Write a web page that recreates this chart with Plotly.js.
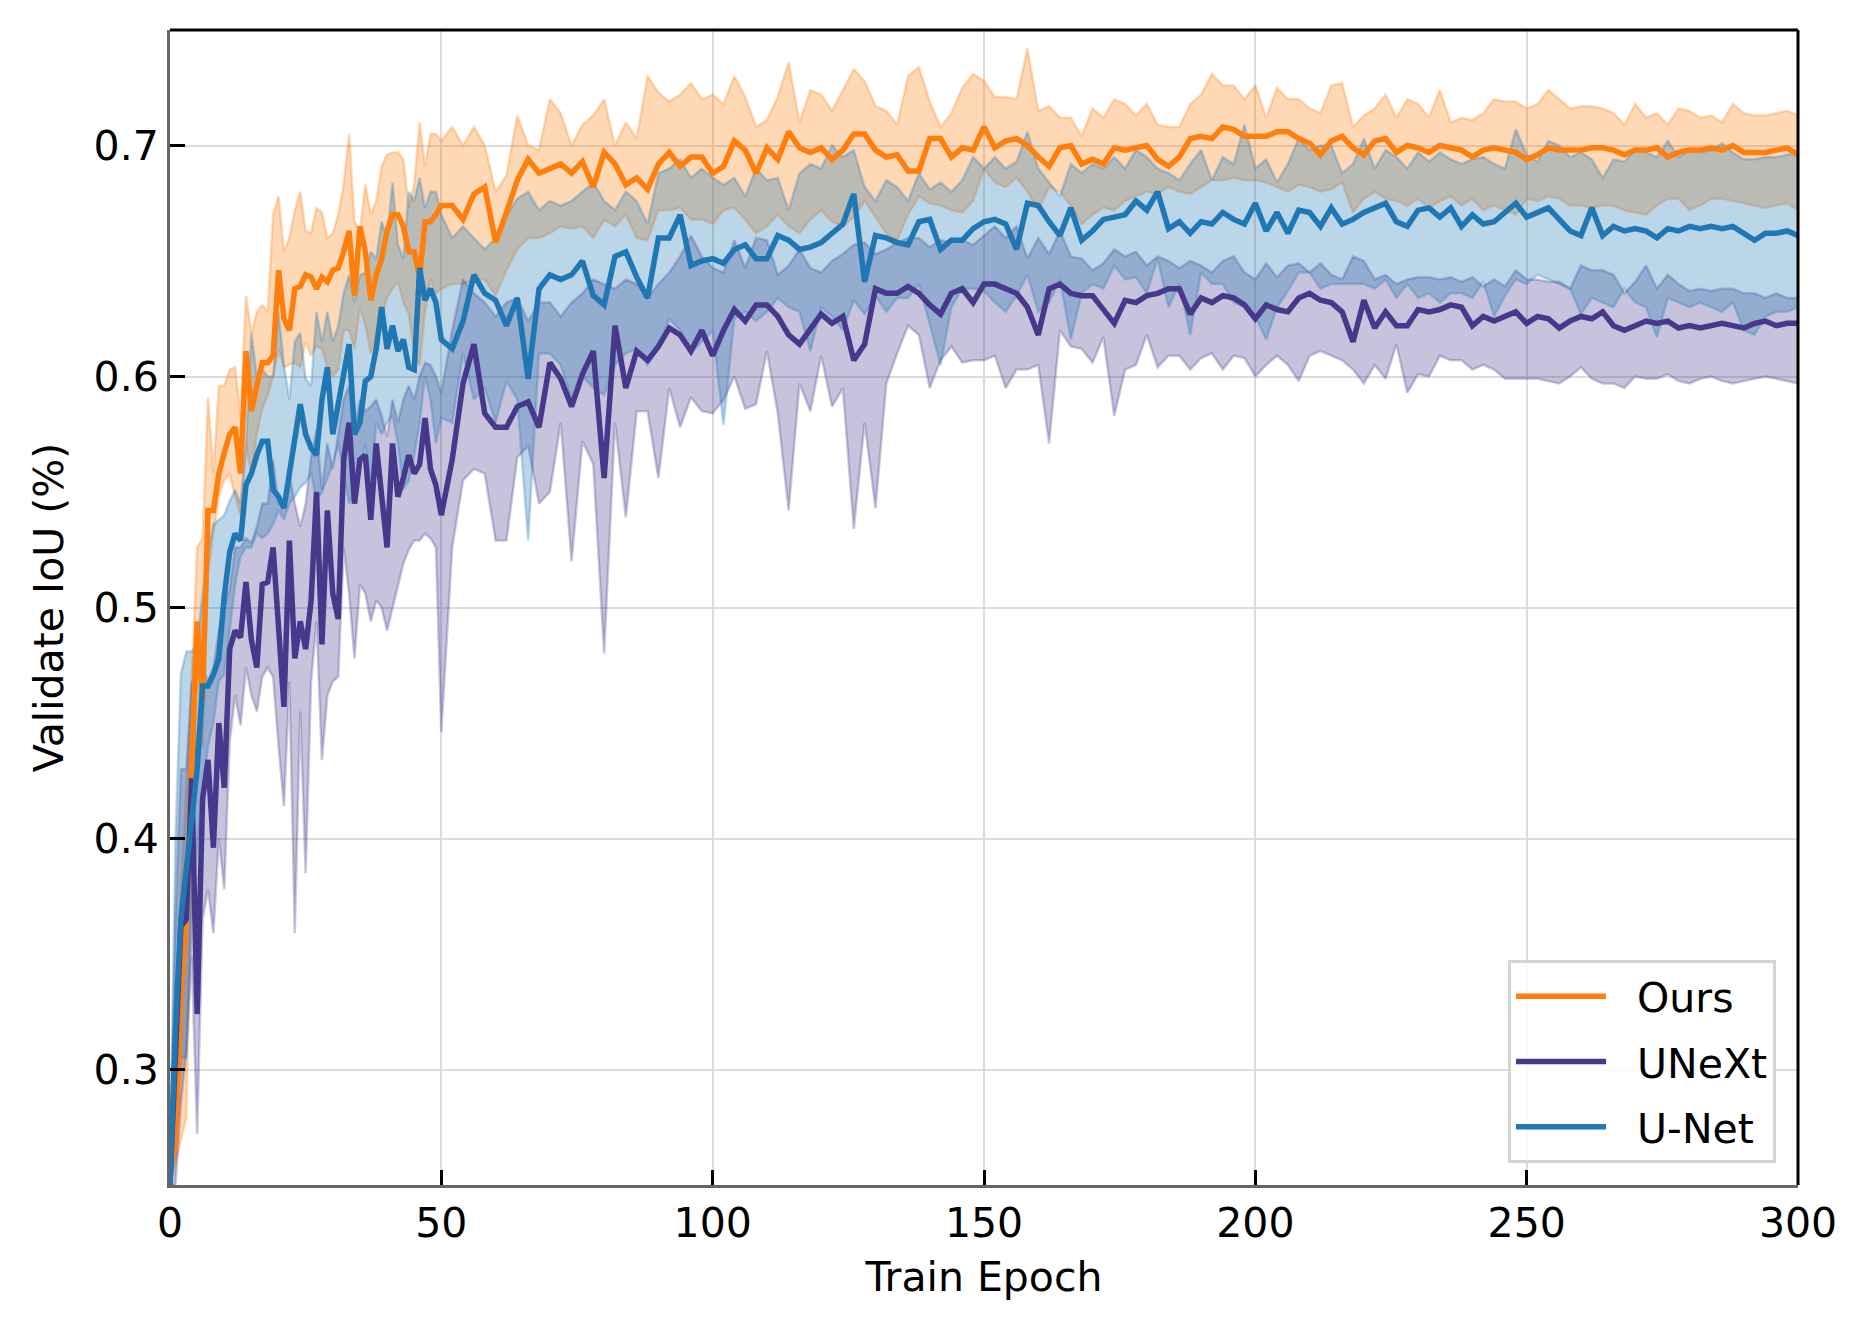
<!DOCTYPE html>
<html>
<head>
<meta charset="utf-8">
<script src="https://cdn.plot.ly/plotly-3.0.1.min.js"></script>
<style>
html,body{margin:0;padding:0;background:#fff;}
#chart{width:1866px;height:1330px;}
</style>
</head>
<body>
<div id="chart"></div>
<script>
// Epochs: every epoch up to 50, then every 2nd epoch
const epochs = [
  0,1,2,3,4,5,6,7,8,9,10,11,12,13,14,15,16,17,18,19,20,21,22,23,24,
  25,26,27,28,29,30,31,32,33,34,35,36,37,38,39,40,41,42,43,44,45,46,47,48,49,50,
  52,54,56,58,60,62,64,66,68,70,72,74,76,78,80,82,84,86,88,90,92,94,96,98,100,
  102,104,106,108,110,112,114,116,118,120,122,124,126,128,130,132,134,136,138,140,142,144,146,148,150,
  152,154,156,158,160,162,164,166,168,170,172,174,176,178,180,182,184,186,188,190,192,194,196,198,200,
  202,204,206,208,210,212,214,216,218,220,222,224,226,228,230,232,234,236,238,240,242,244,246,248,250,
  252,254,256,258,260,262,264,266,268,270,272,274,276,278,280,282,284,286,288,290,292,294,296,298,300
];

const seriesNames = ["Ours", "UNeXt", "U-Net"];

// ---- Ours ----
const oursMean = [
  0.255,0.269,0.333,0.365,0.43,0.494,0.46,0.542,0.542,0.558,0.567,0.575,0.578,0.558,0.611,0.585,0.596,0.606,0.606,0.609,0.646,0.625,0.62,0.638,0.639,
  0.644,0.643,0.638,0.643,0.641,0.646,0.647,0.654,0.663,0.635,0.665,0.654,0.633,0.644,0.651,0.663,0.67,0.67,0.665,0.654,0.654,0.643,0.667,0.667,0.67,0.674,
  0.674,0.668,0.679,0.682,0.658,0.671,0.685,0.694,0.688,0.69,0.692,0.688,0.693,0.682,0.697,0.692,0.683,0.686,0.681,0.692,0.697,0.691,0.695,0.695,0.688,
  0.691,0.702,0.698,0.688,0.699,0.694,0.706,0.699,0.697,0.699,0.694,0.698,0.705,0.705,0.698,0.695,0.696,0.689,0.689,0.703,0.703,0.695,0.699,0.698,0.708,
  0.699,0.702,0.703,0.70,0.695,0.691,0.699,0.70,0.692,0.694,0.692,0.699,0.698,0.699,0.70,0.694,0.691,0.695,0.703,0.704,0.703,0.708,0.707,0.704,0.704,
  0.704,0.706,0.706,0.703,0.701,0.696,0.702,0.704,0.699,0.696,0.702,0.703,0.697,0.70,0.699,0.697,0.70,0.699,0.698,0.695,0.698,0.699,0.698,0.697,0.694,
  0.696,0.699,0.698,0.698,0.698,0.699,0.699,0.698,0.696,0.698,0.698,0.699,0.695,0.697,0.698,0.698,0.699,0.698,0.70,0.697,0.697,0.697,0.698,0.699,0.696
];
const oursHigh = [
  0.26,0.30,0.38,0.42,0.47,0.526,0.53,0.591,0.558,0.596,0.596,0.603,0.604,0.583,0.635,0.619,0.628,0.631,0.628,0.67,0.678,0.654,0.66,0.672,0.68,
  0.663,0.662,0.673,0.671,0.66,0.662,0.67,0.683,0.705,0.667,0.663,0.683,0.67,0.676,0.691,0.696,0.697,0.697,0.694,0.673,0.683,0.71,0.691,0.705,0.705,0.702,
  0.708,0.70,0.708,0.70,0.68,0.687,0.713,0.70,0.698,0.72,0.714,0.70,0.709,0.713,0.72,0.70,0.71,0.703,0.73,0.723,0.719,0.722,0.727,0.72,0.722,
  0.718,0.73,0.721,0.708,0.711,0.721,0.736,0.71,0.724,0.722,0.715,0.724,0.733,0.728,0.717,0.715,0.709,0.73,0.734,0.719,0.708,0.714,0.725,0.731,0.728,
  0.721,0.721,0.72,0.742,0.715,0.717,0.712,0.712,0.704,0.716,0.712,0.72,0.718,0.713,0.718,0.709,0.708,0.708,0.718,0.722,0.731,0.726,0.726,0.72,0.726,
  0.712,0.725,0.72,0.72,0.716,0.714,0.726,0.727,0.708,0.713,0.716,0.722,0.712,0.72,0.718,0.712,0.724,0.71,0.712,0.711,0.714,0.72,0.719,0.719,0.716,
  0.718,0.724,0.72,0.716,0.717,0.717,0.716,0.714,0.709,0.718,0.712,0.714,0.709,0.716,0.715,0.712,0.713,0.71,0.718,0.714,0.713,0.713,0.714,0.715,0.713
];
const oursLow = [
  0.25,0.26,0.27,0.279,0.38,0.445,0.44,0.515,0.532,0.548,0.555,0.558,0.548,0.54,0.57,0.558,0.575,0.586,0.592,0.60,0.612,0.604,0.605,0.606,0.604,
  0.615,0.609,0.613,0.612,0.604,0.60,0.603,0.62,0.62,0.612,0.63,0.622,0.61,0.617,0.626,0.634,0.638,0.641,0.632,0.627,0.61,0.605,0.628,0.642,0.636,0.638,
  0.64,0.64,0.642,0.642,0.635,0.646,0.655,0.66,0.66,0.662,0.665,0.664,0.665,0.66,0.668,0.665,0.67,0.66,0.659,0.672,0.672,0.673,0.668,0.668,0.666,
  0.672,0.673,0.668,0.662,0.665,0.67,0.665,0.662,0.668,0.672,0.667,0.665,0.669,0.676,0.669,0.662,0.659,0.67,0.678,0.675,0.674,0.672,0.671,0.676,0.69,
  0.684,0.682,0.686,0.68,0.672,0.682,0.68,0.674,0.666,0.67,0.673,0.672,0.676,0.678,0.68,0.679,0.682,0.68,0.679,0.682,0.685,0.685,0.686,0.685,0.685,
  0.684,0.682,0.68,0.683,0.682,0.68,0.681,0.684,0.671,0.677,0.68,0.677,0.676,0.674,0.677,0.673,0.676,0.678,0.674,0.677,0.672,0.674,0.672,0.67,0.677,
  0.676,0.678,0.677,0.674,0.674,0.673,0.674,0.674,0.672,0.671,0.67,0.674,0.677,0.677,0.672,0.674,0.677,0.677,0.676,0.675,0.674,0.673,0.674,0.675,0.672
];

// ---- UNeXt ----
const unextMean = [
  0.25,0.308,0.362,0.365,0.426,0.324,0.417,0.434,0.396,0.45,0.422,0.482,0.49,0.487,0.511,0.486,0.474,0.51,0.511,0.526,0.494,0.457,0.529,0.478,0.494,
  0.482,0.503,0.55,0.484,0.542,0.506,0.495,0.564,0.58,0.545,0.564,0.566,0.538,0.571,0.551,0.526,0.571,0.548,0.556,0.566,0.558,0.562,0.582,0.56,0.553,0.54,
  0.564,0.597,0.614,0.584,0.578,0.578,0.587,0.589,0.578,0.606,0.599,0.587,0.601,0.611,0.556,0.622,0.595,0.611,0.607,0.613,0.621,0.618,0.611,0.62,0.609,
  0.62,0.629,0.624,0.631,0.631,0.626,0.618,0.614,0.621,0.627,0.623,0.626,0.607,0.614,0.638,0.636,0.636,0.639,0.636,0.631,0.627,0.636,0.638,0.632,0.64,
  0.64,0.638,0.636,0.63,0.618,0.638,0.64,0.636,0.635,0.635,0.629,0.623,0.633,0.632,0.635,0.636,0.638,0.638,0.627,0.634,0.632,0.635,0.634,0.631,0.625,
  0.631,0.629,0.628,0.634,0.636,0.633,0.632,0.628,0.615,0.633,0.621,0.628,0.622,0.622,0.629,0.628,0.629,0.631,0.63,0.622,0.626,0.624,0.626,0.628,0.623,
  0.626,0.625,0.621,0.624,0.626,0.625,0.628,0.622,0.62,0.622,0.624,0.623,0.624,0.621,0.622,0.621,0.622,0.623,0.622,0.621,0.623,0.624,0.622,0.623,0.623
];
const unextHigh = [
  0.26,0.365,0.43,0.43,0.468,0.43,0.474,0.468,0.474,0.49,0.50,0.508,0.526,0.526,0.53,0.528,0.535,0.545,0.545,0.564,0.545,0.545,0.558,0.545,0.535,
  0.545,0.565,0.577,0.551,0.571,0.56,0.575,0.59,0.596,0.577,0.59,0.585,0.587,0.59,0.583,0.574,0.59,0.58,0.59,0.596,0.59,0.60,0.606,0.605,0.60,0.593,
  0.62,0.642,0.636,0.632,0.626,0.632,0.634,0.624,0.632,0.632,0.626,0.632,0.636,0.642,0.64,0.638,0.642,0.64,0.634,0.64,0.645,0.652,0.661,0.652,0.647,
  0.645,0.659,0.647,0.66,0.659,0.644,0.648,0.655,0.647,0.645,0.65,0.653,0.657,0.658,0.653,0.655,0.658,0.66,0.66,0.656,0.659,0.658,0.659,0.657,0.661,
  0.665,0.66,0.665,0.651,0.66,0.653,0.663,0.652,0.651,0.646,0.649,0.655,0.652,0.654,0.648,0.652,0.65,0.647,0.65,0.648,0.645,0.65,0.652,0.645,0.642,
  0.649,0.643,0.648,0.649,0.645,0.649,0.644,0.642,0.652,0.65,0.642,0.644,0.64,0.642,0.643,0.643,0.642,0.643,0.641,0.643,0.639,0.642,0.639,0.646,0.642,
  0.642,0.641,0.641,0.638,0.648,0.646,0.646,0.644,0.636,0.641,0.648,0.638,0.644,0.64,0.637,0.638,0.637,0.638,0.638,0.636,0.636,0.634,0.636,0.634,0.634
];
const unextLow = [
  0.25,0.25,0.285,0.308,0.349,0.272,0.365,0.378,0.359,0.40,0.378,0.442,0.462,0.449,0.474,0.462,0.455,0.47,0.474,0.47,0.44,0.414,0.468,0.359,0.455,
  0.385,0.468,0.494,0.434,0.462,0.468,0.47,0.526,0.506,0.478,0.51,0.506,0.494,0.503,0.50,0.49,0.50,0.51,0.519,0.525,0.529,0.529,0.532,0.53,0.526,0.446,
  0.526,0.555,0.56,0.558,0.529,0.529,0.565,0.57,0.545,0.55,0.58,0.52,0.572,0.562,0.48,0.58,0.539,0.585,0.585,0.556,0.595,0.578,0.591,0.585,0.584,
  0.59,0.60,0.586,0.588,0.611,0.584,0.542,0.597,0.585,0.609,0.587,0.595,0.534,0.58,0.543,0.597,0.61,0.622,0.618,0.595,0.607,0.613,0.606,0.607,0.607,
  0.609,0.595,0.603,0.603,0.605,0.571,0.62,0.613,0.612,0.606,0.617,0.583,0.603,0.605,0.618,0.604,0.609,0.609,0.603,0.608,0.61,0.603,0.609,0.608,0.60,
  0.605,0.609,0.605,0.598,0.609,0.611,0.609,0.607,0.603,0.597,0.605,0.599,0.614,0.593,0.601,0.60,0.609,0.607,0.607,0.603,0.605,0.603,0.599,0.599,0.599,
  0.599,0.598,0.597,0.60,0.604,0.599,0.597,0.597,0.595,0.60,0.599,0.599,0.601,0.598,0.597,0.599,0.60,0.598,0.597,0.598,0.599,0.60,0.599,0.598,0.597
];

// ---- U-Net ----
const unetMean = [
  0.25,0.317,0.365,0.385,0.41,0.43,0.466,0.466,0.471,0.478,0.505,0.524,0.532,0.529,0.553,0.558,0.566,0.572,0.572,0.551,0.548,0.543,0.558,0.572,0.588,
  0.575,0.569,0.566,0.59,0.604,0.575,0.588,0.60,0.614,0.575,0.58,0.598,0.60,0.612,0.63,0.612,0.622,0.611,0.616,0.604,0.603,0.647,0.633,0.638,0.632,0.616,
  0.612,0.624,0.644,0.636,0.633,0.622,0.634,0.599,0.638,0.644,0.642,0.644,0.65,0.635,0.631,0.652,0.654,0.643,0.634,0.66,0.66,0.67,0.648,0.65,0.651,
  0.649,0.655,0.657,0.651,0.651,0.661,0.659,0.655,0.656,0.658,0.662,0.666,0.679,0.641,0.661,0.66,0.658,0.657,0.667,0.668,0.655,0.659,0.659,0.664,0.667,
  0.668,0.666,0.655,0.675,0.674,0.667,0.661,0.673,0.659,0.663,0.668,0.669,0.67,0.676,0.672,0.68,0.664,0.667,0.662,0.667,0.666,0.671,0.668,0.666,0.675,
  0.663,0.671,0.662,0.672,0.671,0.665,0.673,0.666,0.668,0.671,0.673,0.675,0.667,0.665,0.672,0.673,0.669,0.673,0.665,0.67,0.666,0.667,0.671,0.675,0.669,
  0.671,0.673,0.668,0.663,0.661,0.673,0.661,0.665,0.663,0.664,0.663,0.66,0.664,0.663,0.665,0.664,0.665,0.664,0.665,0.662,0.659,0.662,0.662,0.663,0.661
];
const unetHigh = [
  0.26,0.40,0.471,0.481,0.481,0.484,0.506,0.525,0.536,0.538,0.54,0.546,0.551,0.545,0.57,0.619,0.60,0.603,0.60,0.60,0.628,0.605,0.59,0.615,0.619,
  0.599,0.596,0.628,0.615,0.628,0.615,0.622,0.636,0.644,0.632,0.644,0.645,0.654,0.651,0.667,0.66,0.684,0.657,0.651,0.68,0.676,0.686,0.673,0.68,0.68,0.67,
  0.66,0.665,0.66,0.655,0.66,0.67,0.677,0.68,0.672,0.676,0.674,0.676,0.68,0.684,0.676,0.672,0.68,0.676,0.666,0.688,0.69,0.694,0.686,0.69,0.686,
  0.683,0.686,0.678,0.69,0.685,0.686,0.672,0.688,0.692,0.69,0.70,0.695,0.698,0.682,0.676,0.685,0.682,0.676,0.688,0.681,0.684,0.68,0.685,0.695,0.69,
  0.695,0.69,0.693,0.706,0.69,0.684,0.678,0.692,0.688,0.692,0.69,0.695,0.69,0.698,0.695,0.69,0.688,0.685,0.692,0.698,0.685,0.695,0.692,0.709,0.69,
  0.694,0.684,0.692,0.703,0.698,0.70,0.70,0.688,0.692,0.703,0.69,0.698,0.695,0.69,0.697,0.693,0.697,0.694,0.692,0.694,0.695,0.692,0.69,0.707,0.696,
  0.693,0.702,0.70,0.695,0.697,0.694,0.686,0.694,0.693,0.698,0.697,0.695,0.702,0.695,0.698,0.697,0.698,0.701,0.697,0.694,0.694,0.695,0.695,0.696,0.697
];
const unetLow = [
  0.25,0.269,0.305,0.305,0.372,0.397,0.42,0.44,0.45,0.468,0.471,0.49,0.51,0.522,0.526,0.526,0.532,0.53,0.532,0.536,0.542,0.538,0.545,0.548,0.552,
  0.554,0.558,0.546,0.55,0.556,0.562,0.571,0.558,0.545,0.55,0.56,0.571,0.551,0.58,0.575,0.58,0.583,0.571,0.551,0.555,0.566,0.58,0.60,0.59,0.571,0.582,
  0.58,0.61,0.59,0.595,0.58,0.598,0.59,0.529,0.61,0.61,0.605,0.59,0.60,0.595,0.592,0.605,0.61,0.612,0.605,0.612,0.625,0.62,0.61,0.615,0.62,
  0.579,0.625,0.628,0.624,0.628,0.634,0.63,0.628,0.611,0.63,0.626,0.62,0.633,0.627,0.635,0.628,0.634,0.634,0.64,0.622,0.605,0.63,0.638,0.638,0.637,
  0.632,0.628,0.635,0.644,0.628,0.632,0.642,0.616,0.636,0.64,0.638,0.648,0.642,0.643,0.636,0.651,0.63,0.64,0.618,0.645,0.64,0.64,0.632,0.63,0.626,
  0.616,0.63,0.637,0.645,0.645,0.638,0.64,0.64,0.64,0.64,0.638,0.642,0.634,0.64,0.634,0.636,0.632,0.636,0.636,0.634,0.641,0.626,0.635,0.642,0.64,
  0.644,0.642,0.64,0.638,0.627,0.634,0.632,0.63,0.638,0.632,0.63,0.617,0.634,0.632,0.63,0.632,0.63,0.628,0.632,0.62,0.618,0.626,0.628,0.628,0.63
];

const xTicks = [0, 50, 100, 150, 200, 250, 300];
const yTicks = [0.3, 0.4, 0.5, 0.6, 0.7];

const colors = {
  "Ours":  {line: "#ff7f0e", fill: "rgba(255,127,14,0.30)", edge: "rgba(255,127,14,0.28)"},
  "UNeXt": {line: "#46398c", fill: "rgba(70,57,140,0.30)",  edge: "rgba(70,57,140,0.28)"},
  "U-Net": {line: "#1f77b4", fill: "rgba(31,119,180,0.30)", edge: "rgba(31,119,180,0.28)"}
};

const bands = [
  {name: seriesNames[0], lo: oursLow,  hi: oursHigh,  mean: oursMean},
  {name: seriesNames[1], lo: unextLow, hi: unextHigh, mean: unextMean},
  {name: seriesNames[2], lo: unetLow,  hi: unetHigh,  mean: unetMean}
];

const traces = [];
bands.forEach(b => {
  const c = colors[b.name];
  traces.push({x: epochs, y: b.lo, type: "scatter", mode: "lines",
    line: {color: c.edge, width: 2.5}, showlegend: false, hoverinfo: "skip"});
  traces.push({x: epochs, y: b.hi, type: "scatter", mode: "lines", fill: "tonexty",
    fillcolor: c.fill, line: {color: c.edge, width: 2.5}, showlegend: false, hoverinfo: "skip"});
});
// legend entries: a small non-breaking gap separates the line sample from the label
bands.forEach((b, i) => {
  const c = colors[b.name];
  traces.push({x: epochs, y: b.mean, type: "scatter", mode: "lines", name: "\u00a0\u00a0" + b.name,
    legendrank: i + 1, legendgroup: "g" + i, line: {color: c.line, width: 5.5}});
});

const fam = "DejaVu Sans, Liberation Sans, sans-serif";
const font = {family: fam, size: 41, color: "#000"};

const layout = {
  width: 1866, height: 1330,
  margin: {l: 170, r: 68, t: 30, b: 145, pad: 0},
  paper_bgcolor: "#fff", plot_bgcolor: "#fff",
  font: font,
  showlegend: true,
  legend: {
    x: 0.9865, y: 0.019, xanchor: "right", yanchor: "bottom",
    traceorder: "grouped",
    bgcolor: "rgba(255,255,255,0.85)", bordercolor: "#d4d4d4", borderwidth: 3,
    font: {family: fam, size: 41, color: "#000"},
    tracegroupgap: 9, itemwidth: 90
  },
  xaxis: {
    range: [0, 300], tickvals: xTicks, ticktext: xTicks.map(String),
    ticks: "inside", ticklen: 15, tickwidth: 3, tickcolor: "#000",
    showline: true, linecolor: "#666", linewidth: 3, mirror: false,
    showgrid: true, gridcolor: "#dcdcdc", gridwidth: 2, zeroline: false,
    tickfont: {family: fam, size: 41, color: "#000"},
    title: {text: "Train Epoch", font: {family: fam, size: 41, color: "#000"}, standoff: 17},
    automargin: false
  },
  yaxis: {
    range: [0.25, 0.75], tickvals: yTicks, ticktext: yTicks.map(v => v.toFixed(1)),
    ticks: "inside", ticklen: 15, tickwidth: 3, tickcolor: "#000",
    showline: true, linecolor: "#666", linewidth: 3, mirror: false,
    showgrid: true, gridcolor: "#dcdcdc", gridwidth: 2, zeroline: false,
    tickfont: {family: fam, size: 41, color: "#000"},
    title: {text: "Validate IoU (%)", font: {family: fam, size: 41, color: "#000"}, standoff: 18},
    automargin: false
  },
  shapes: [
    {type: "line", xref: "paper", yref: "paper", x0: 0, x1: 1, y0: 1, y1: 1, line: {color: "#000", width: 3}},
    {type: "line", xref: "paper", yref: "paper", x0: 1, x1: 1, y0: 0, y1: 1, line: {color: "#000", width: 3}}
  ]
};

Plotly.newPlot("chart", traces, layout, {staticPlot: true, displayModeBar: false});
</script>
</body>
</html>
